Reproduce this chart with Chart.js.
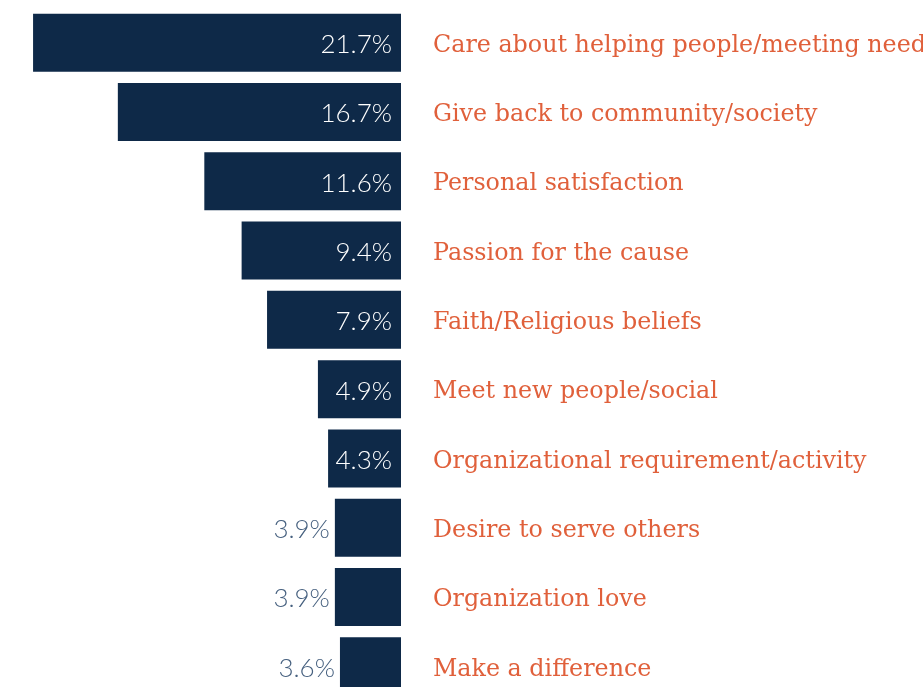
<!DOCTYPE html>
<html>
<head>
<meta charset="utf-8">
<script src="https://cdn.jsdelivr.net/npm/chart.js@4/dist/chart.umd.min.js"></script>
<style>
  html, body { margin: 0; padding: 0; background: #ffffff; overflow: hidden; }
  canvas { display: block; }
</style>
</head>
<body>
<canvas id="chart" width="923" height="701"></canvas>
<script>
// Reasons for volunteering (share of respondents, %)
const reasons = [
  "Care about helping people/meeting needs",
  "Give back to community/society",
  "Personal satisfaction",
  "Passion for the cause",
  "Faith/Religious beliefs",
  "Meet new people/social",
  "Organizational requirement/activity",
  "Desire to serve others",
  "Organization love",
  "Make a difference"
];
const shares = [21.7, 16.7, 11.6, 9.4, 7.9, 4.9, 4.3, 3.9, 3.9, 3.6];

const NAVY = "#0e2948";
const ORANGE = "#e0603b";
const SLATE = "#46607f";

// Value labels: inside the bar when it is wide enough, otherwise just left of it
const valueLabels = {
  id: "valueLabels",
  afterDatasetsDraw(chart) {
    const ctx = chart.ctx;
    const meta = chart.getDatasetMeta(0);
    ctx.save();
    ctx.font = "300 26px Lato, 'Open Sans', sans-serif";
    ctx.textBaseline = "middle";
    ctx.textAlign = "right";
    meta.data.forEach((bar, i) => {
      const text = shares[i].toFixed(1) + "%";
      const tw = ctx.measureText(text).width;
      const left = Math.min(bar.x, bar.base);
      const right = Math.max(bar.x, bar.base);
      if (right - left >= tw + 12) {
        ctx.fillStyle = "#ffffff";
        ctx.fillText(text, right - 9, bar.y + 2);
      } else {
        ctx.fillStyle = SLATE;
        ctx.fillText(text, left - 5, bar.y + 2);
      }
    });
    ctx.restore();
  }
};

new Chart(document.getElementById("chart"), {
  type: "bar",
  data: {
    labels: reasons,
    datasets: [{
      data: shares,
      backgroundColor: NAVY,
      borderWidth: 0,
      barPercentage: 0.837,
      categoryPercentage: 1.0
    }]
  },
  options: {
    indexAxis: "y",
    responsive: false,
    animation: false,
    layout: { padding: { top: 8, bottom: 0, left: 0, right: 0 } },
    plugins: {
      legend: { display: false },
      tooltip: { enabled: false }
    },
    scales: {
      x: {
        display: false,
        reverse: true,
        min: 0,
        max: 23.65
      },
      y: {
        position: "right",
        grid: { display: false, drawTicks: false },
        border: { display: false },
        afterFit(scale) {
          scale.width = 522;
          scale.paddingTop = 0;
          scale.paddingBottom = 0;
        },
        ticks: {
          color: ORANGE,
          padding: 32,
          labelOffset: 3,
          autoSkip: false,
          font: { family: "'DejaVu Serif', serif", size: 23.8 }
        }
      }
    }
  },
  plugins: [valueLabels]
});
</script>
</body>
</html>
